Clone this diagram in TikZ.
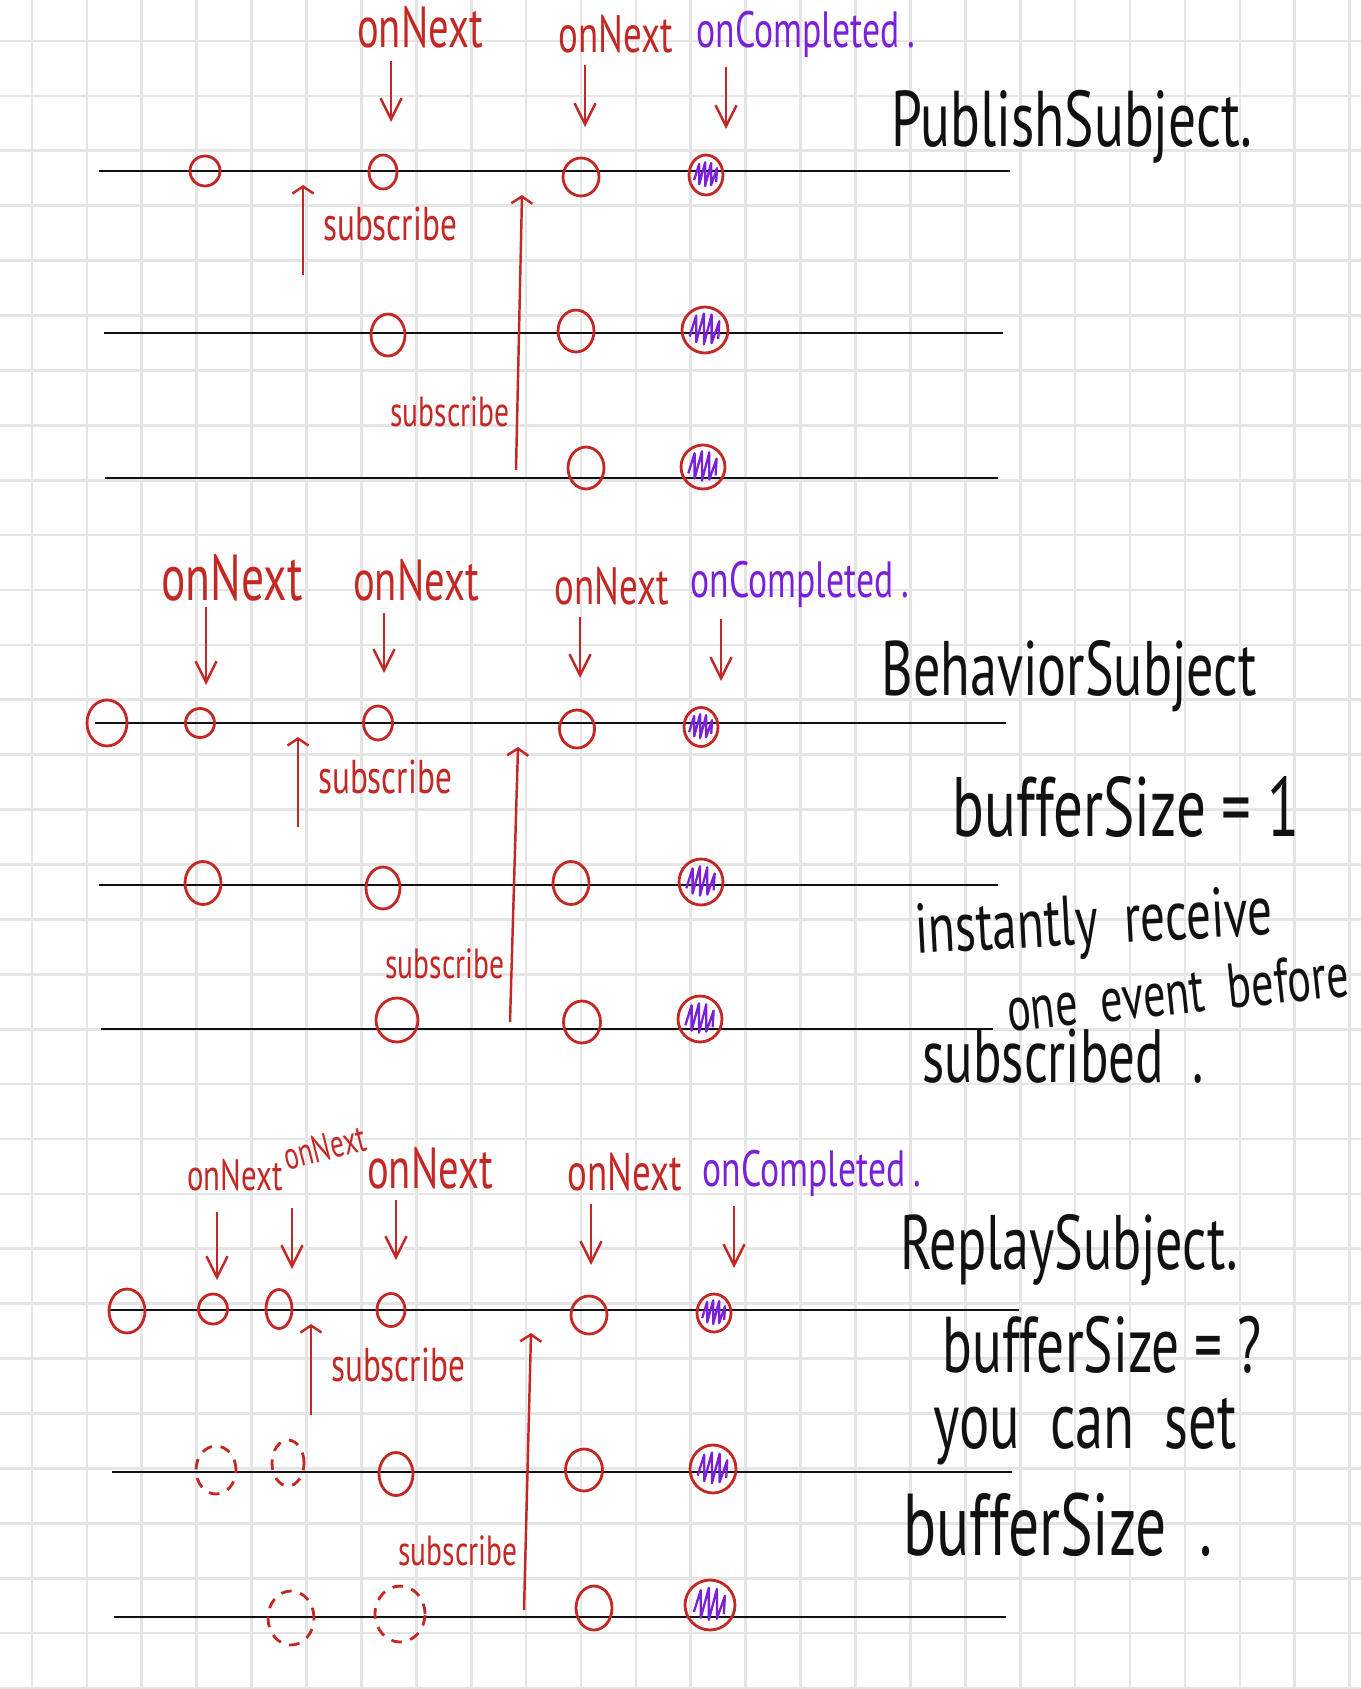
\documentclass[tikz,border=0pt]{standalone}
\usepackage{fontspec}
\setmainfont{PT Sans}
\newfontfamily\handfont[FakeStretch=0.7]{PT Sans}
\usetikzlibrary{shapes.geometric,arrows.meta}

\definecolor{inkred}{RGB}{196,40,36}
\definecolor{inkviolet}{RGB}{122,32,216}
\definecolor{inkblack}{RGB}{17,17,17}
\definecolor{paperline}{RGB}{229,229,229}

\tikzset{
  gridline/.style={paperline, line width=1.5pt},
  timeline/.style={inkblack, line width=1.6pt},
  ev/.style 2 args={ellipse, draw=inkred, line width=1.6pt, inner sep=0pt,
    minimum width=#1*0.04cm, minimum height=#2*0.04cm},
  ghost/.style 2 args={ev={#1}{#2}, dash pattern=on 6pt off 5pt},
  evarrow/.style={inkred, line width=1.4pt,
    -{Straight Barb[length=12pt, width=12pt]}},
  subarrow/.style={inkred, line width=1.4pt,
    -{Straight Barb[length=4pt, width=12pt]}},
  lbl/.style={inkred, inner sep=0pt, anchor=base,
    font=\handfont\fontsize{#1}{#1}\selectfont},
  lbl/.default=33,
  cmpl/.style={inkviolet, inner sep=0pt, anchor=base,
    font=\handfont\fontsize{29}{29}\selectfont},
  note/.style={inkblack, inner sep=0pt, anchor=base,
    font=\handfont\fontsize{#1}{#1}\selectfont},
  scribble/.pic={
    \draw[inkviolet, line width=1.3pt, line join=round]
      (-14,6) -- (-8,-13) -- (-8,11) -- (-1,-15) -- (-1,13) -- (6,-14)
      -- (6,12) -- (13,-8) -- (12,8);
  }
}

\begin{document}
\begin{tikzpicture}[x=0.02cm,y=-0.02cm]

  \def\gx{32}
  \def\gy{41}
  \def\gs{54.9}

  \useasboundingbox (0,0) rectangle (1361,1689);
  \fill[white] (0,0) rectangle (1361,1689);

  % grid
  \foreach \k in {0,...,24}
  \draw[gridline] (\gx+\k*\gs,0) -- (\gx+\k*\gs,1689);
  \foreach \k in {0,...,30}
  \draw[gridline] (0,\gy+\k*\gs) -- (1361,\gy+\k*\gs);

  % ---------------- PublishSubject ----------------
  \coordinate (a1s) at (99,171);  \coordinate (a1e) at (1010,171);
  \coordinate (a2s) at (104,333); \coordinate (a2e) at (1003,333);
  \coordinate (a3s) at (105,478); \coordinate (a3e) at (998,478);
  \draw[timeline] (a1s) -- (a1e);
  \draw[timeline] (a2s) -- (a2e);
  \draw[timeline] (a3s) -- (a3e);

  \node[ev={15}{15}] (a11) at (205,171) {};
  \node[ev={14}{17}] (a12) at (383,172) {};
  \node[ev={18}{19}] (a13) at (581,177) {};
  \node[ev={17}{20}] (a14) at (706,175) {};
  \pic[scale=0.85] at (a14) {scribble};

  \node[ev={17}{21}] (a22) at (388,335) {};
  \node[ev={18}{21}] (a23) at (576,331) {};
  \node[ev={23}{23}] (a24) at (705,330) {};
  \pic[scale=1.1] at (a24) {scribble};

  \node[ev={18}{21}] (a33) at (586,468) {};
  \node[ev={22}{22}] (a34) at (703,467) {};
  \pic[scale=1.05] at (a34) {scribble};

  \node[lbl] (an1) at (420,48) {onNext};
  \node[lbl=30] (an2) at (616,53) {onNext};
  \node[cmpl] (ac) at (806,48) {onCompleted\,.};

  \coordinate (an1t) at (391,61);  \coordinate (an1b) at (391,122);
  \coordinate (an2t) at (585,65);  \coordinate (an2b) at (585,127);
  \coordinate (act) at (726,67);   \coordinate (acb) at (726,129);
  \draw[evarrow] (an1t) -- (an1b);
  \draw[evarrow] (an2t) -- (an2b);
  \draw[evarrow] (act) -- (acb);

  \coordinate (as1b) at (303,275); \coordinate (as1t) at (303,185);
  \coordinate (as2b) at (516,470); \coordinate (as2t) at (522,195);
  \draw[subarrow] (as1b) -- (as1t);
  \draw[subarrow] (as2b) -- (as2t);
  \node[lbl=27] (as1) at (390,241) {subscribe};
  \node[lbl=24] (as2) at (450,426) {subscribe};

  \node[note=45] (atitle) at (1072,147) {PublishSubject.};

  % ---------------- BehaviorSubject ----------------
  \coordinate (b1s) at (95,723);  \coordinate (b1e) at (1006,723);
  \coordinate (b2s) at (99,885);  \coordinate (b2e) at (998,885);
  \coordinate (b3s) at (101,1029); \coordinate (b3e) at (993,1029);
  \draw[timeline] (b1s) -- (b1e);
  \draw[timeline] (b2s) -- (b2e);
  \draw[timeline] (b3s) -- (b3e);

  \node[ev={20}{23}] (b10) at (107,723) {};
  \node[ev={14.5}{14.5}] (b11) at (200,723) {};
  \node[ev={14.5}{17}] (b12) at (378,723) {};
  \node[ev={17.5}{19}] (b13) at (577,729) {};
  \node[ev={17}{19.5}] (b14) at (701,727) {};
  \pic[scale=0.85] at (b14) {scribble};

  \node[ev={18}{21.5}] (b21) at (203,883) {};
  \node[ev={17}{21}] (b22) at (383,888) {};
  \node[ev={18}{21.5}] (b23) at (571,883) {};
  \node[ev={22}{23}] (b24) at (701,882) {};
  \pic[scale=1.05] at (b24) {scribble};

  \node[ev={21}{22}] (b32) at (397,1020) {};
  \node[ev={18.5}{21}] (b33) at (582,1022) {};
  \node[ev={22}{23}] (b34) at (700,1019) {};
  \pic[scale=1.05] at (b34) {scribble};

  \node[lbl=37] (bn1) at (232,600) {onNext};
  \node[lbl] (bn2) at (416,600) {onNext};
  \node[lbl=30] (bn3) at (612,604) {onNext};
  \node[cmpl] (bc) at (800,597) {onCompleted\,.};

  \coordinate (bn1t) at (206,607); \coordinate (bn1b) at (206,685);
  \coordinate (bn2t) at (384,613); \coordinate (bn2b) at (384,673);
  \coordinate (bn3t) at (580,617); \coordinate (bn3b) at (580,678);
  \coordinate (bct) at (721,619);  \coordinate (bcb) at (721,681);
  \draw[evarrow] (bn1t) -- (bn1b);
  \draw[evarrow] (bn2t) -- (bn2b);
  \draw[evarrow] (bn3t) -- (bn3b);
  \draw[evarrow] (bct) -- (bcb);

  \coordinate (bs1b) at (298,827);  \coordinate (bs1t) at (298,737);
  \coordinate (bs2b) at (510,1022); \coordinate (bs2t) at (518,747);
  \draw[subarrow] (bs1b) -- (bs1t);
  \draw[subarrow] (bs2b) -- (bs2t);
  \node[lbl=27] (bs1) at (385,793) {subscribe};
  \node[lbl=24] (bs2) at (445,978) {subscribe};

  \node[note=44] (btitle) at (1069,695) {BehaviorSubject};
  \node[note=48] (bbuf) at (1126,836) {bufferSize = 1};
  \node[note=40, rotate=3] (brecv) at (1095,944) {instantly \ receive};
  \node[note=36, rotate=6] (bone) at (1180,1014) {one \ event \ before};
  \node[note=43] (bsubd) at (1063,1082) {subscribed \ .};

  % ---------------- ReplaySubject ----------------
  \coordinate (c1s) at (108,1310); \coordinate (c1e) at (1019,1310);
  \coordinate (c2s) at (112,1472); \coordinate (c2e) at (1012,1472);
  \coordinate (c3s) at (114,1617); \coordinate (c3e) at (1006,1617);
  \draw[timeline] (c1s) -- (c1e);
  \draw[timeline] (c2s) -- (c2e);
  \draw[timeline] (c3s) -- (c3e);

  \node[ev={18}{22}] (c10) at (127,1311) {};
  \node[ev={14.5}{15}] (c11) at (213,1309) {};
  \node[ev={13}{19.5}] (c12) at (279,1309) {};
  \node[ev={14}{16.5}] (c13) at (391,1310) {};
  \node[ev={18}{19}] (c14) at (589,1315) {};
  \node[ev={17}{19}] (c15) at (714,1313) {};
  \pic[scale=0.85] at (c15) {scribble};

  \node[ghost={20}{24}] (c21) at (216,1470) {};
  \node[ghost={16}{23}] (c22) at (288,1463) {};
  \node[ev={17}{21.5}] (c23) at (396,1474) {};
  \node[ev={18.5}{21}] (c24) at (584,1470) {};
  \node[ev={23}{24}] (c25) at (713,1469) {};
  \pic[scale=1.1] at (c25) {scribble};

  \node[ghost={23}{27}] (c32) at (291,1618) {};
  \node[ghost={25}{28}] (c33) at (400,1614) {};
  \node[ev={18}{22}] (c34) at (594,1608) {};
  \node[ev={25}{25}] (c35) at (710,1605) {};
  \pic[scale=1.15] at (c35) {scribble};

  \node[lbl=25] (cn1) at (235,1190) {onNext};
  \node[lbl=22, rotate=14] (cn2) at (328,1160) {onNext};
  \node[lbl] (cn3) at (430,1188) {onNext};
  \node[lbl=30] (cn4) at (625,1190) {onNext};
  \node[cmpl] (cc) at (812,1186) {onCompleted\,.};

  \coordinate (cn1t) at (217,1212); \coordinate (cn1b) at (217,1280);
  \coordinate (cn2t) at (292,1208); \coordinate (cn2b) at (292,1269);
  \coordinate (cn3t) at (396,1200); \coordinate (cn3b) at (396,1260);
  \coordinate (cn4t) at (591,1204); \coordinate (cn4b) at (591,1265);
  \coordinate (cct) at (734,1206);  \coordinate (ccb) at (734,1268);
  \draw[evarrow] (cn1t) -- (cn1b);
  \draw[evarrow] (cn2t) -- (cn2b);
  \draw[evarrow] (cn3t) -- (cn3b);
  \draw[evarrow] (cn4t) -- (cn4b);
  \draw[evarrow] (cct) -- (ccb);

  \coordinate (cs1b) at (311,1415); \coordinate (cs1t) at (311,1324);
  \coordinate (cs2b) at (524,1610); \coordinate (cs2t) at (531,1333);
  \draw[subarrow] (cs1b) -- (cs1t);
  \draw[subarrow] (cs2b) -- (cs2t);
  \node[lbl=27] (cs1) at (398,1381) {subscribe};
  \node[lbl=24] (cs2) at (458,1565) {subscribe};

  \node[note=44] (ctitle) at (1069,1269) {ReplaySubject.};
  \node[note=45] (cbuf) at (1102,1372) {bufferSize = ?};
  \node[note=46] (cset) at (1085,1448) {you \ can \ set};
  \node[note=50] (cbuf2) at (1058,1555) {bufferSize \ .};

\end{tikzpicture}
\end{document}
